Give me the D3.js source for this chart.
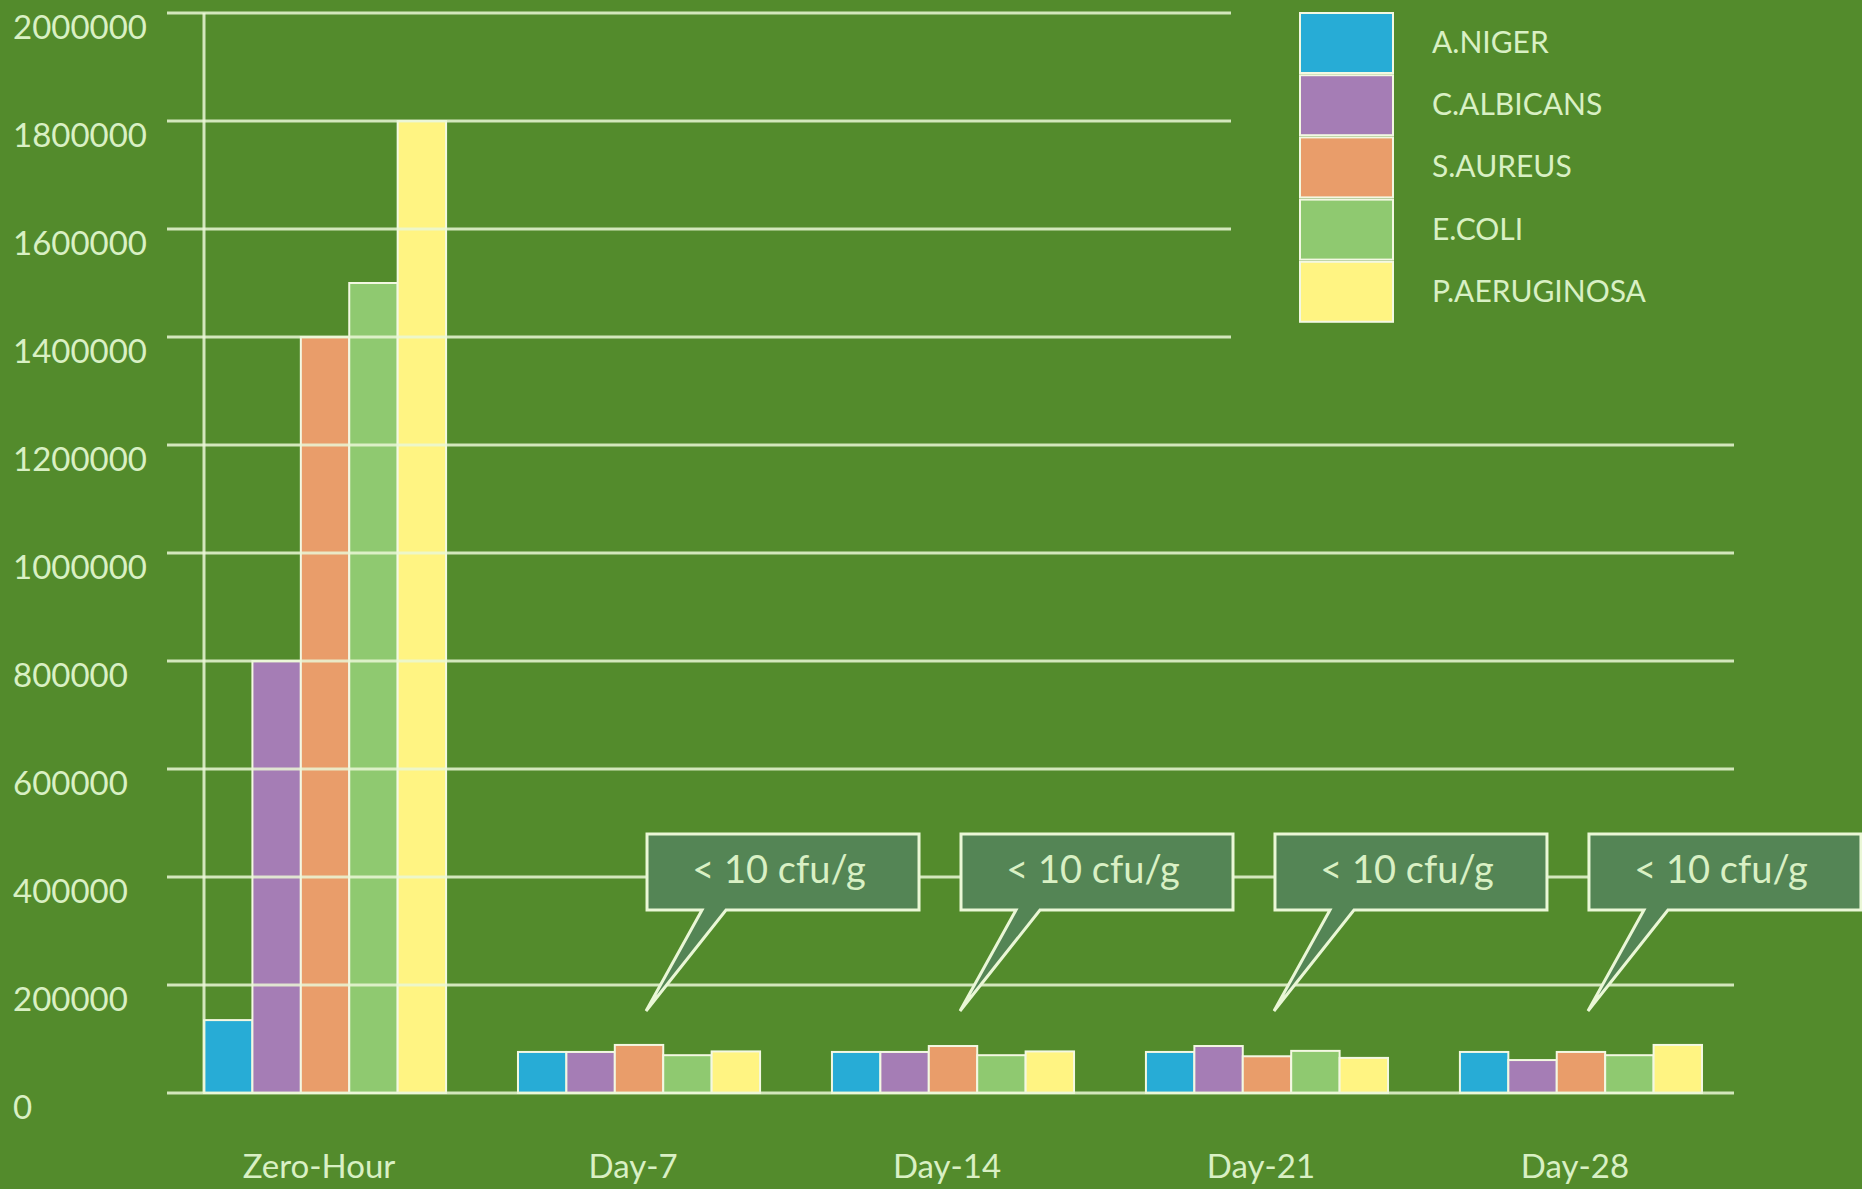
<!DOCTYPE html>
<html>
<head>
<meta charset="utf-8">
<script src="https://cdn.jsdelivr.net/npm/d3@7"></script>
<style>
  html, body { margin: 0; padding: 0; background: #538b2c; }
  svg { display: block; }
  text { font-family: Lato, "Open Sans", sans-serif; fill: #d9f0c4; }
</style>
</head>
<body>
<svg id="chart"></svg>
<script>
let width = 1862,
    height = 1189;

// data
const categories = ['Zero-Hour', 'Day-7', 'Day-14', 'Day-21', 'Day-28'];
const species = ['A.NIGER', 'C.ALBICANS', 'S.AUREUS', 'E.COLI', 'P.AERUGINOSA'];
const aNiger      = [135000, 76000, 76000, 76000, 76000];
const cAlbicans   = [800000, 76000, 76000, 87000, 61000];
const sAureus     = [1400000, 89000, 87000, 68000, 76000];
const eColi       = [1500000, 70000, 70000, 78000, 70000];
const pAeruginosa = [1800000, 77000, 77000, 65000, 89000];
const yTicks = [0, 200000, 400000, 600000, 800000, 1000000, 1200000, 1400000, 1600000, 1800000, 2000000];
const calloutCats = ['Day-7', 'Day-14', 'Day-21', 'Day-28'];
const calloutText = '< 10 cfu/g';

const seriesValues = [aNiger, cAlbicans, sAureus, eColi, pAeruginosa];
const colors = ['#27acd6', '#a57db5', '#e99d6a', '#8fc970', '#fff482'];
const lineColor = '#eaf7d6';

let svg = d3.select('svg#chart')
    .attr('width', width)
    .attr('height', height);

let y = d3.scaleLinear().domain([0, 2000000]).range([1093, 13]);
let x0 = d3.scaleBand().domain(categories).range([204, 1702]).paddingInner(0.229);
let x1 = d3.scaleBand().domain(species).range([0, x0.bandwidth()]);
let color = d3.scaleOrdinal().domain(species).range(colors);

let rows = [];
categories.forEach((c, i) => {
    species.forEach((s, j) => {
        rows.push({cat: c, sp: s, value: seriesValues[j][i]});
    });
});

// bars
svg.append('g')
    .selectAll('rect')
    .data(rows)
    .join('rect')
    .attr('x', d => x0(d.cat) + x1(d.sp))
    .attr('y', d => y(d.value))
    .attr('width', x1.bandwidth())
    .attr('height', d => y(0) - y(d.value))
    .attr('fill', d => color(d.sp))
    .attr('stroke', '#f3f8e2')
    .attr('stroke-width', 2);

// gridlines (drawn over the bars, slightly see-through)
svg.append('g')
    .selectAll('line')
    .data(yTicks)
    .join('line')
    .attr('x1', 167)
    .attr('x2', d => d >= 1400000 ? 1231 : 1734)
    .attr('y1', d => y(d))
    .attr('y2', d => y(d))
    .attr('stroke', lineColor)
    .attr('stroke-opacity', 0.85)
    .attr('stroke-width', 3);

svg.append('line')
    .attr('x1', 204).attr('x2', 204)
    .attr('y1', y(2000000)).attr('y2', y(0))
    .attr('stroke', lineColor)
    .attr('stroke-opacity', 0.85)
    .attr('stroke-width', 3);

// y labels
let yAxis = svg.append('g')
    .call(d3.axisLeft(y).tickValues(yTicks).tickSize(0).tickFormat(d3.format('d')));
yAxis.select('.domain').remove();
yAxis.selectAll('text')
    .attr('x', 13)
    .attr('dy', null)
    .attr('y', 25)
    .attr('text-anchor', 'start')
    .style('font-family', 'Lato, sans-serif')
    .style('font-size', '33px')
    .style('fill', '#d9f0c4');

// x labels
let xAxis = svg.append('g')
    .attr('transform', 'translate(-6,0)')
    .call(d3.axisBottom(x0).tickSize(0));
xAxis.select('.domain').remove();
xAxis.selectAll('text')
    .attr('y', 1178)
    .attr('dy', null)
    .style('font-family', 'Lato, sans-serif')
    .style('font-size', '33px')
    .style('fill', '#d9f0c4');

// callouts
let boxW = 272, boxH = 76;
let boxTop = y(400000) - 43;
let callouts = svg.append('g')
    .selectAll('g')
    .data(calloutCats)
    .join('g')
    .attr('transform', d => `translate(${x0(d) + x0.bandwidth() / 2 + 8},${boxTop})`);

callouts.append('path')
    .attr('d', `M0,0 H${boxW} V${boxH} H79 L-1,${1011 - boxTop} L55,${boxH} H0 Z`)
    .attr('fill', '#548555')
    .attr('stroke', lineColor)
    .attr('stroke-width', 3)
    .attr('stroke-linejoin', 'miter');

callouts.append('text')
    .attr('x', boxW / 2 - 4)
    .attr('y', 49)
    .attr('text-anchor', 'middle')
    .style('font-size', '38px')
    .text(calloutText);

// legend
let legend = svg.append('g')
    .selectAll('g')
    .data(species)
    .join('g')
    .attr('transform', (d, i) => `translate(1300,${13 + i * 62.2})`);

legend.append('rect')
    .attr('width', 93)
    .attr('height', 60)
    .attr('fill', d => color(d))
    .attr('stroke', '#f3f8e2')
    .attr('stroke-width', 2);

legend.append('text')
    .attr('x', 132)
    .attr('y', 40)
    .style('font-size', '30px')
    .text(d => d);
</script>
</body>
</html>
